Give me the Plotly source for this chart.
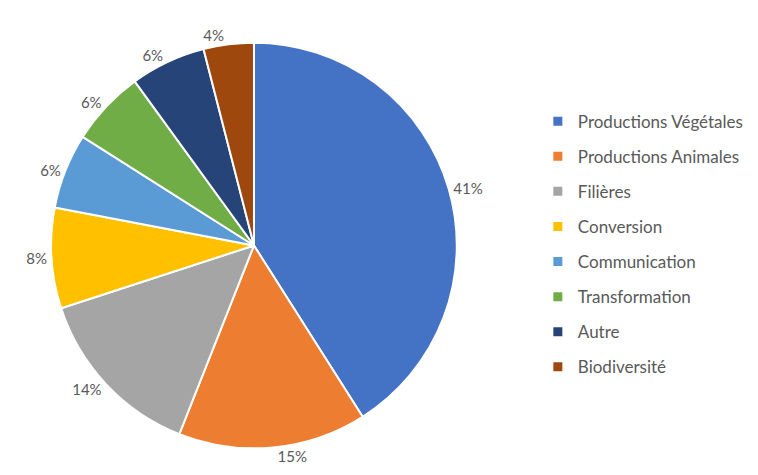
import plotly.graph_objects as go

categories = ["Productions Végétales", "Productions Animales", "Filières", "Conversion",
              "Communication", "Transformation", "Autre", "Biodiversité"]
values = [41, 15, 14, 8, 6, 6, 6, 4]
colors = ["#4472C4", "#ED7D31", "#A5A5A5", "#FFC000", "#5B9BD5", "#70AD47", "#264478", "#9E480E"]

FONT = "Lato, 'Open Sans', sans-serif"
TXT = "#595959"

fig = go.Figure()
fig.add_trace(go.Pie(
    labels=categories, values=values, sort=False, direction="clockwise", rotation=0,
    marker=dict(colors=colors, line=dict(color="white", width=2)),
    textposition="outside", texttemplate="%{value}%",
    textfont=dict(family=FONT, size=15, color=TXT),
    showlegend=False, hoverinfo="label+percent",
    domain=dict(x=[0.0565, 0.5925], y=[0.073, 0.927]),
))

# legend entries (one per category) so item spacing can be controlled
for i, (c, col) in enumerate(zip(categories, colors)):
    fig.add_trace(go.Scatter(
        x=[None], y=[None], mode="markers", name=c,
        marker=dict(symbol="square", size=9, color=col),
        legendgroup=f"g{i}", showlegend=True, hoverinfo="skip",
    ))

fig.update_layout(
    width=758, height=475, margin=dict(l=0, r=0, t=0, b=0),
    paper_bgcolor="white", plot_bgcolor="white",
    xaxis=dict(visible=False), yaxis=dict(visible=False),
    legend=dict(x=0.699, y=0.503, xanchor="left", yanchor="middle",
                font=dict(family=FONT, size=17, color=TXT),
                tracegroupgap=10, itemwidth=30, bgcolor="rgba(0,0,0,0)"),
)

fig.write_html("out.html")
